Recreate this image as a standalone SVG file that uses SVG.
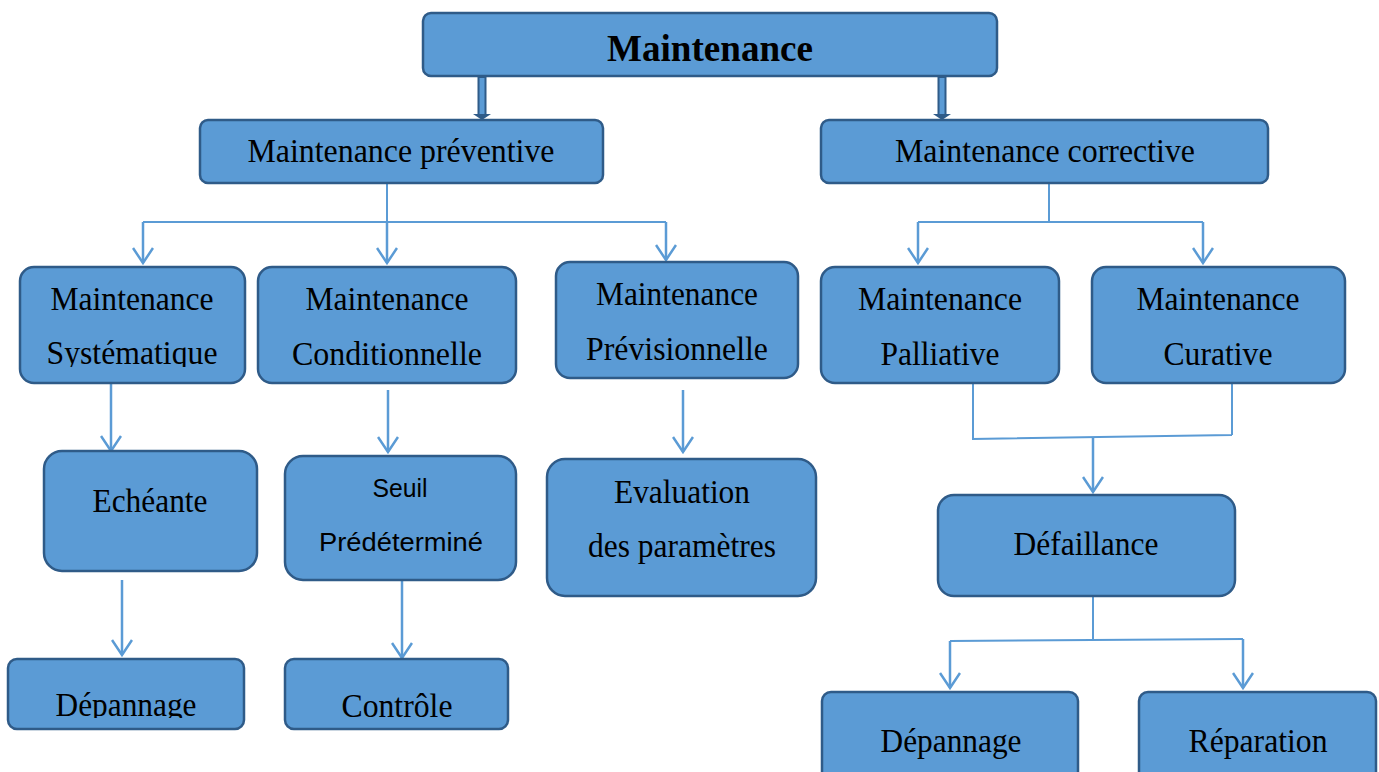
<svg xmlns="http://www.w3.org/2000/svg" width="1379" height="772" viewBox="0 0 1379 772">
<style>
.box{fill:#5b9bd5;stroke:#2f5b88;stroke-width:2.5}
.t{font-family:"Liberation Serif","Times New Roman",serif;font-size:34px;fill:#000;text-anchor:middle}
.s{font-family:"Liberation Sans",Arial,sans-serif;font-size:25px;fill:#000;text-anchor:middle}
.b{font-weight:bold;font-size:38px}
.c{fill:none;stroke:#5b9bd5;stroke-width:2}
.a{fill:none;stroke:#5b9bd5;stroke-width:2.5}
.d{fill:#5b9bd5;stroke:#2f5b88;stroke-width:2}
</style>
<defs>
<marker id="v" viewBox="0 0 20 22" refX="18" refY="11" markerWidth="20" markerHeight="22" markerUnits="userSpaceOnUse" orient="auto">
<path d="M3,1 L18,11 L3,21" fill="none" stroke="#5b9bd5" stroke-width="2.5"/>
</marker>
<clipPath id="clipSys"><rect x="0" y="260" width="260" height="107"/></clipPath>
<clipPath id="clipDep"><rect x="0" y="650" width="260" height="68"/></clipPath>
</defs>

<g id="connectors">
<rect class="d" x="478.5" y="77" width="7" height="38"/>
<path d="M473,114 L491,114 L482,120 Z" fill="#2f5b88"/>
<rect class="d" x="938.5" y="77" width="7" height="38"/>
<path d="M933,114 L951,114 L942,120 Z" fill="#2f5b88"/>
<path class="c" d="M387,183 V222 M143,222 H666"/>
<path class="a" d="M143,222 V263" marker-end="url(#v)"/>
<path class="a" d="M387,222 V263" marker-end="url(#v)"/>
<path class="a" d="M666,222 V260" marker-end="url(#v)"/>
<path class="c" d="M1049,183 V222 M918,222 H1203"/>
<path class="a" d="M918,222 V263" marker-end="url(#v)"/>
<path class="a" d="M1203,222 V263" marker-end="url(#v)"/>
<path class="a" d="M111,383 V451" marker-end="url(#v)"/>
<path class="a" d="M388,390 V452" marker-end="url(#v)"/>
<path class="a" d="M683,390 V452" marker-end="url(#v)"/>
<path class="a" d="M122,580 V655" marker-end="url(#v)"/>
<path class="a" d="M402,580 V658" marker-end="url(#v)"/>
<path class="c" d="M973,383 V439 M1232,383 V435 M972,439 L1232,435"/>
<path class="a" d="M1093,437 V492" marker-end="url(#v)"/>
<path class="c" d="M1093,596 V640 M950,641 L1243,639"/>
<path class="a" d="M950,641 V688" marker-end="url(#v)"/>
<path class="a" d="M1243,639 V688" marker-end="url(#v)"/>
</g>

<g id="maintenance">
<rect class="box" x="423" y="13" width="574" height="63" rx="8"/>
<text class="t b" x="710" y="61" textLength="206" lengthAdjust="spacingAndGlyphs">Maintenance</text>
</g>
<g id="preventive">
<rect class="box" x="200" y="120" width="403" height="63" rx="8"/>
<text class="t" x="401" y="162" textLength="307" lengthAdjust="spacingAndGlyphs">Maintenance préventive</text>
</g>
<g id="corrective">
<rect class="box" x="821" y="120" width="447" height="63" rx="8"/>
<text class="t" x="1045" y="162" textLength="300" lengthAdjust="spacingAndGlyphs">Maintenance corrective</text>
</g>

<g id="systematique">
<rect class="box" x="20" y="267" width="225" height="116" rx="14"/>
<text class="t" x="132" y="310" textLength="163" lengthAdjust="spacingAndGlyphs">Maintenance</text>
<text class="t" x="132" y="364" textLength="171" lengthAdjust="spacingAndGlyphs" clip-path="url(#clipSys)">Systématique</text>
</g>
<g id="conditionnelle">
<rect class="box" x="258" y="267" width="258" height="116" rx="14"/>
<text class="t" x="387" y="310" textLength="163" lengthAdjust="spacingAndGlyphs">Maintenance</text>
<text class="t" x="387" y="365" textLength="190" lengthAdjust="spacingAndGlyphs">Conditionnelle</text>
</g>
<g id="previsionnelle">
<rect class="box" x="556" y="262" width="242" height="116" rx="14"/>
<text class="t" x="677" y="305" textLength="162" lengthAdjust="spacingAndGlyphs">Maintenance</text>
<text class="t" x="677" y="360" textLength="182" lengthAdjust="spacingAndGlyphs">Prévisionnelle</text>
</g>
<g id="palliative">
<rect class="box" x="821" y="267" width="238" height="116" rx="14"/>
<text class="t" x="940" y="310" textLength="164" lengthAdjust="spacingAndGlyphs">Maintenance</text>
<text class="t" x="940" y="365" textLength="119" lengthAdjust="spacingAndGlyphs">Palliative</text>
</g>
<g id="curative">
<rect class="box" x="1092" y="267" width="253" height="116" rx="14"/>
<text class="t" x="1218" y="310" textLength="163" lengthAdjust="spacingAndGlyphs">Maintenance</text>
<text class="t" x="1218" y="365" textLength="109" lengthAdjust="spacingAndGlyphs">Curative</text>
</g>

<g id="echeante">
<rect class="box" x="44" y="451" width="213" height="120" rx="18"/>
<text class="t" x="150" y="512" textLength="115" lengthAdjust="spacingAndGlyphs">Echéante</text>
</g>
<g id="seuil">
<rect class="box" x="285" y="456" width="231" height="124" rx="18"/>
<text class="s" x="400" y="497" textLength="55" lengthAdjust="spacingAndGlyphs">Seuil</text>
<text class="s" x="401" y="551" textLength="164" lengthAdjust="spacingAndGlyphs">Prédéterminé</text>
</g>
<g id="evaluation">
<rect class="box" x="547" y="459" width="269" height="137" rx="18"/>
<text class="t" x="682" y="503" textLength="136" lengthAdjust="spacingAndGlyphs">Evaluation</text>
<text class="t" x="682" y="557" textLength="188" lengthAdjust="spacingAndGlyphs">des paramètres</text>
</g>
<g id="defaillance">
<rect class="box" x="938" y="495" width="297" height="101" rx="16"/>
<text class="t" x="1086" y="555" textLength="145" lengthAdjust="spacingAndGlyphs">Défaillance</text>
</g>

<g id="depannage1">
<rect class="box" x="8" y="659" width="236" height="70" rx="9"/>
<text class="t" x="126" y="716" textLength="141" lengthAdjust="spacingAndGlyphs" clip-path="url(#clipDep)">Dépannage</text>
</g>
<g id="controle">
<rect class="box" x="285" y="659" width="223" height="70" rx="9"/>
<text class="t" x="397" y="717" textLength="111" lengthAdjust="spacingAndGlyphs">Contrôle</text>
</g>
<g id="depannage2">
<rect class="box" x="822" y="692" width="256" height="90" rx="9"/>
<text class="t" x="951" y="752" textLength="141" lengthAdjust="spacingAndGlyphs">Dépannage</text>
</g>
<g id="reparation">
<rect class="box" x="1139" y="692" width="237" height="90" rx="9"/>
<text class="t" x="1258" y="752" textLength="139" lengthAdjust="spacingAndGlyphs">Réparation</text>
</g>
</svg>
